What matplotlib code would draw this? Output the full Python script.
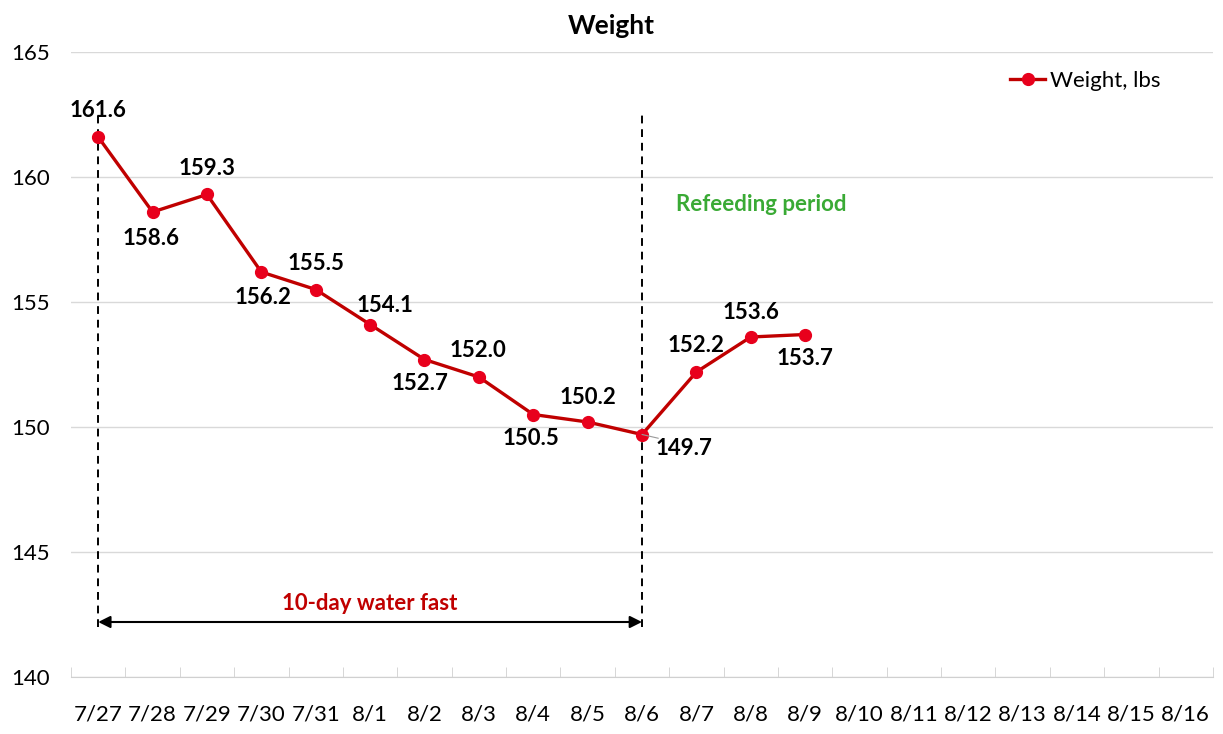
import matplotlib
matplotlib.use("Agg")
import matplotlib.pyplot as plt

# Data
dates = ['7/27', '7/28', '7/29', '7/30', '7/31', '8/1', '8/2', '8/3', '8/4', '8/5',
         '8/6', '8/7', '8/8', '8/9', '8/10', '8/11', '8/12', '8/13', '8/14', '8/15', '8/16']
weight = [161.6, 158.6, 159.3, 156.2, 155.5, 154.1, 152.7, 152.0, 150.5, 150.2,
          149.7, 152.2, 153.6, 153.7]
# label offsets in points (dx, dy)
label_off = [(0, 19), (-1, -19), (0, 19), (1, -18), (0, 19), (11, 14), (-3, -17),
             (-1, 19), (-2, -17), (0, 18), (30, -10), (0, 19), (0, 18), (0, -17)]

plt.rcParams['font.family'] = ['Lato', 'DejaVu Sans']

fig = plt.figure(figsize=(12.23, 7.34), dpi=100)
ax = fig.add_axes([71 / 1223, 1 - 677 / 734, 1142 / 1223, 625 / 734])

x = list(range(len(weight)))
ax.plot(x, weight, color='#C00000', lw=2.4, marker='o', ms=8.5,
        mfc='#E8001C', mec='#E8001C', label='Weight, lbs', zorder=3)

for i, v in enumerate(weight):
    dx, dy = label_off[i]
    ax.annotate(f'{v:.1f}', (i, v), xytext=(dx, dy), textcoords='offset points',
                ha='center', va='center', fontsize=16, fontweight='bold')
# small leader line for 149.7
ax.annotate('', (10, 149.7), xytext=(10.3, 149.55),
            arrowprops=dict(arrowstyle='-', color='#999999', lw=0.8,
                            shrinkA=0, shrinkB=0))

# fasting markers
ax.plot([0, 0], [142.0, 162.7], color='black', ls=(0, (4, 3)), lw=1.4, zorder=2)
ax.plot([10, 10], [142.0, 162.7], color='black', ls=(0, (4, 3)), lw=1.4, zorder=2)
ax.annotate('', xy=(0, 142.2), xytext=(10, 142.2),
            arrowprops=dict(arrowstyle='<|-|>', color='black', lw=1.5,
                            mutation_scale=18, shrinkA=0, shrinkB=0))
ax.text(5, 142.95, '10-day water fast', color='#C00000', fontsize=16,
        fontweight='bold', ha='center', va='center')
ax.text(12.2, 158.9, 'Refeeding period', color='#3AAA35', fontsize=16,
        fontweight='bold', ha='center', va='center')

ax.set_xlim(-0.5, len(dates) - 0.5)
ax.set_ylim(140, 165)
ax.set_yticks([140, 145, 150, 155, 160, 165])
ax.set_xticks(range(len(dates)))
ax.set_xticklabels(dates)
ax.set_xticks([i - 0.5 for i in range(len(dates) + 1)], minor=True)
ax.tick_params(axis='x', which='major', length=0, pad=20, labelsize=16)
ax.tick_params(axis='x', which='minor', length=7, direction='in', color='#D0D0D0')
ax.tick_params(axis='y', length=0, pad=15, labelsize=16)
ax.grid(axis='y', color='#D9D9D9', lw=1)
ax.set_axisbelow(True)
for s in ['top', 'right', 'left']:
    ax.spines[s].set_visible(False)
ax.spines['bottom'].set_color('#D0D0D0')

fig.suptitle('Weight', fontsize=19, fontweight='bold', x=0.5, y=0.965, va='center')
ax.legend(loc='center left', bbox_to_anchor=(0.822, 0.954), frameon=False,
          fontsize=16, handlelength=1.6, handletextpad=0.2,
          borderaxespad=0, borderpad=0)

fig.savefig('out.png', dpi=100)
